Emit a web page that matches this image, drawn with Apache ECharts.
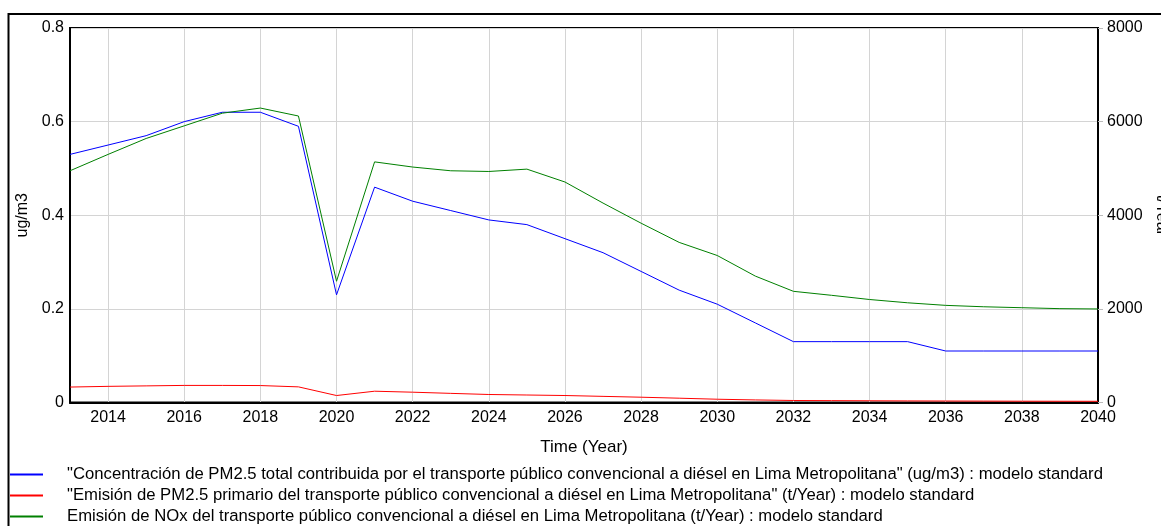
<!DOCTYPE html>
<html>
<head>
<meta charset="utf-8">
<script src="https://cdn.jsdelivr.net/npm/echarts@6/dist/echarts.min.js"></script>
<style>
html,body{margin:0;padding:0;background:#fff;}
#chart{width:1161px;height:526px;}
</style>
</head>
<body>
<div id="chart"></div>
<script>
const years = ['2013','2014','2015','2016','2017','2018','2019','2020','2021','2022','2023','2024','2025','2026','2027','2028','2029','2030','2031','2032','2033','2034','2035','2036','2037','2038','2039','2040'];
const pm25Concentration = [0.53,0.55,0.57,0.60,0.62,0.62,0.59,0.23,0.46,0.43,0.41,0.39,0.38,0.35,0.32,0.28,0.24,0.21,0.17,0.13,0.13,0.13,0.13,0.11,0.11,0.11,0.11,0.11];
const pm25Emission = [330,345,355,365,365,362,334,149,241,220,195,171,160,149,131,113,92,70,55,43,40,37,34,32,30,28,27,26];
const noxEmission = [4950,5300,5640,5910,6180,6290,6120,2590,5140,5030,4950,4935,4985,4710,4260,3830,3420,3140,2700,2375,2290,2200,2130,2075,2045,2025,2005,1998];
const leftTicks = { min: 0, max: 0.8, interval: 0.2 };
const rightTicks = { min: 0, max: 8000, interval: 2000 };
const seriesNames = [
  '"Concentración de PM2.5 total contribuida por el transporte público convencional a diésel en Lima Metropolitana" (ug/m3) : modelo standard',
  '"Emisión de PM2.5 primario del transporte público convencional a diésel en Lima Metropolitana" (t/Year) : modelo standard',
  'Emisión de NOx del transporte público convencional a diésel en Lima Metropolitana (t/Year) : modelo standard'
];
const colors = ['#0000ff', '#ff0000', '#008000'];

const FONT = '"Liberation Sans", Arial, sans-serif';
const chart = echarts.init(document.getElementById('chart'), null, { renderer: 'canvas' });
const oddIdx = (i) => i % 2 === 1;

chart.setOption({
  animation: false,
  backgroundColor: '#fff',
  textStyle: { fontFamily: FONT },
  graphic: [{
    type: 'rect', z: 100, silent: true,
    shape: { x: 8.5, y: 14, width: 1170, height: 540 },
    style: { fill: 'none', stroke: '#000', lineWidth: 2 }
  }],
  grid: { left: 70, right: 63, top: 28, bottom: 123.5, show: true, borderColor: '#000', borderWidth: 2,
    backgroundColor: 'transparent', containLabel: false, outerBoundsMode: 'none' },
  legend: {
    orient: 'vertical', left: 10, top: 466, height: 80, padding: 0, itemWidth: 33, itemHeight: 2, itemGap: 4,
    icon: 'rect',
    data: seriesNames,
    textStyle: { fontFamily: FONT, fontSize: 16.7, color: '#000', padding: [0, 0, 0, 19], lineHeight: 17 }
  },
  xAxis: {
    type: 'category', data: years, boundaryGap: false,
    name: 'Time (Year)', nameLocation: 'middle', nameGap: 36,
    nameTextStyle: { fontFamily: FONT, fontSize: 17, color: '#000' },
    axisLine: { show: true, lineStyle: { color: '#000', width: 2 } },
    axisTick: { show: false },
    axisLabel: { interval: oddIdx, fontFamily: FONT, fontSize: 16, color: '#000', margin: 7 },
    splitLine: { show: true, interval: oddIdx, lineStyle: { color: '#d4d4d4', width: 1 } }
  },
  yAxis: [{
    type: 'value', position: 'left', min: leftTicks.min, max: leftTicks.max, interval: leftTicks.interval,
    name: 'ug/m3', nameLocation: 'middle', nameGap: 38,
    nameTextStyle: { fontFamily: FONT, fontSize: 16, color: '#000' },
    axisLine: { show: true, lineStyle: { color: '#000', width: 2 } },
    axisTick: { show: false },
    axisLabel: { fontFamily: FONT, fontSize: 16, color: '#000', margin: 6,
      formatter: (v) => (Math.round(v * 10) / 10).toString() },
    splitLine: { show: true, lineStyle: { color: '#d4d4d4', width: 1 } }
  }, {
    type: 'value', position: 'right', min: rightTicks.min, max: rightTicks.max, interval: rightTicks.interval,
    name: 't/Year', nameLocation: 'middle', nameGap: 52, nameRotate: -90,
    nameTextStyle: { fontFamily: FONT, fontSize: 16, color: '#000' },
    axisLine: { show: true, lineStyle: { color: '#000', width: 2 } },
    axisTick: { show: true, length: 5, lineStyle: { color: '#bbb' } },
    axisLabel: { fontFamily: FONT, fontSize: 16, color: '#000', margin: 9,
      formatter: (v) => String(Math.round(v)) },
    splitLine: { show: false }
  }],
  series: [{
    name: seriesNames[0], type: 'line', yAxisIndex: 0, data: pm25Concentration,
    showSymbol: false, symbol: 'none', lineStyle: { color: colors[0], width: 1 }, itemStyle: { color: colors[0] }
  }, {
    name: seriesNames[1], type: 'line', yAxisIndex: 1, data: pm25Emission,
    showSymbol: false, symbol: 'none', lineStyle: { color: colors[1], width: 1 }, itemStyle: { color: colors[1] }
  }, {
    name: seriesNames[2], type: 'line', yAxisIndex: 1, data: noxEmission,
    showSymbol: false, symbol: 'none', lineStyle: { color: colors[2], width: 1 }, itemStyle: { color: colors[2] }
  }]
});
</script>
</body>
</html>
